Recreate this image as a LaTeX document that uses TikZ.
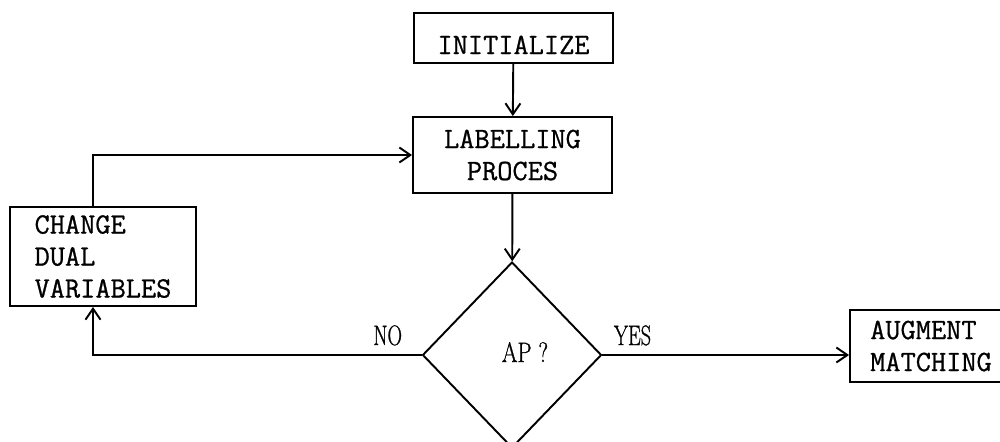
\documentclass[tikz,border=0pt]{standalone}
\usepackage{fontspec}
\usepackage{graphicx}
\usetikzlibrary{shapes.geometric,arrows.meta,positioning}

\setmonofont{Latin Modern Mono}[FakeBold=0.8]
\newfontfamily\notefont{Latin Modern Roman}[FakeBold=1]
\newcommand{\narrowtext}[1]{\scalebox{0.72}[1]{#1}}

\begin{document}
\begin{tikzpicture}[
        x=0.02cm, y=-0.02cm, line width=1.1pt,
        box/.style={
        rectangle, draw=black,
        inner sep=2pt,
        font=\fontsize{16.8}{18.2}\selectfont\ttfamily},
        decision/.style={
        diamond, draw=black,
        inner sep=0pt, minimum width=3.58cm, minimum height=3.72cm},
        note/.style={inner sep=0pt, font=\fontsize{16}{18}\selectfont\notefont},
        flow/.style={-{Straight Barb[length=0.22cm, width=0.3cm]}},
        ]

        \useasboundingbox (0,0) rectangle (1000,441);

        \node (init) [box, minimum width=3.98cm, minimum height=1cm,
              text height=0.64cm, text depth=0pt] at (513.5,38) {INITIALIZE};
        \node (lab) [box, minimum width=3.98cm, minimum height=1.52cm,
              align=center] at (512.5,155) {LABELLING\\PROCES};
        \node (cdv) [box, minimum width=3.72cm, minimum height=1.98cm,
              align=left] at (103,256.5) {CHANGE\\DUAL\\VARIABLES};
        \node (aug) [box, minimum width=3.24cm, minimum height=1.44cm,
              align=left] at (931,346) {AUGMENT\\MATCHING};
        \node (ap) [decision] at (512,355) {};

        % labels of the test
        \node (apq) [note, anchor=base] at (525,362) {\scalebox{0.8}[1]{AP ?}};
        \node (no) [note, anchor=base east] at (403,345) {\narrowtext{NO}};
        \node (yes) [note, anchor=base west] at (613,345) {\narrowtext{YES}};

        \draw [flow] (init) -- (lab);
        \draw [flow] (lab) -- (ap);
        \draw [flow] ([xshift=-0.2cm]cdv.north) |- (lab.west);
        \draw [flow] (ap.west) -| ([xshift=-0.2cm]cdv.south);
        \draw [flow] (ap.east) -- (ap.east -| aug.west);
    \end{tikzpicture}
\end{document}
